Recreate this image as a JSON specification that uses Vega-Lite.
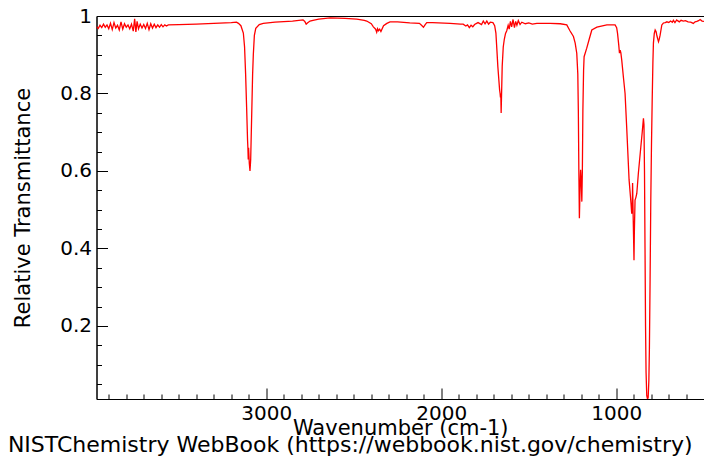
{
  "$schema": "https://vega.github.io/schema/vega-lite/v6.json",
  "width": 607.5,
  "height": 383,
  "autosize": "none",
  "padding": {"left": 96.5, "top": 16, "right": 0, "bottom": 57},
  "background": "white",
  "view": {"stroke": "black", "strokeWidth": 1},
  "title": {
    "text": "NISTChemistry WebBook (https://webbook.nist.gov/chemistry)",
    "orient": "bottom",
    "anchor": "middle",
    "font": "DejaVu Sans",
    "fontSize": 22,
    "fontWeight": "normal",
    "color": "black",
    "dx": -50,
    "offset": -3
  },
  "data": {
    "values": [
      {"wn": 3970, "t": 0.972}, {"wn": 3960, "t": 0.968}, {"wn": 3950, "t": 0.976}, {"wn": 3940, "t": 0.970},
      {"wn": 3930, "t": 0.979}, {"wn": 3920, "t": 0.971}, {"wn": 3910, "t": 0.977}, {"wn": 3900, "t": 0.967},
      {"wn": 3890, "t": 0.981}, {"wn": 3880, "t": 0.965}, {"wn": 3870, "t": 0.983}, {"wn": 3860, "t": 0.969},
      {"wn": 3850, "t": 0.976}, {"wn": 3840, "t": 0.964}, {"wn": 3830, "t": 0.985}, {"wn": 3820, "t": 0.966},
      {"wn": 3810, "t": 0.980}, {"wn": 3800, "t": 0.971}, {"wn": 3790, "t": 0.977}, {"wn": 3780, "t": 0.967},
      {"wn": 3770, "t": 0.979}, {"wn": 3760, "t": 0.961}, {"wn": 3752, "t": 0.993}, {"wn": 3745, "t": 0.959},
      {"wn": 3738, "t": 0.986}, {"wn": 3730, "t": 0.967}, {"wn": 3720, "t": 0.979}, {"wn": 3710, "t": 0.969},
      {"wn": 3700, "t": 0.978}, {"wn": 3690, "t": 0.968}, {"wn": 3680, "t": 0.981}, {"wn": 3670, "t": 0.965},
      {"wn": 3660, "t": 0.980}, {"wn": 3650, "t": 0.969}, {"wn": 3640, "t": 0.979}, {"wn": 3630, "t": 0.970},
      {"wn": 3620, "t": 0.977}, {"wn": 3610, "t": 0.971}, {"wn": 3600, "t": 0.978}, {"wn": 3590, "t": 0.972},
      {"wn": 3580, "t": 0.977}, {"wn": 3570, "t": 0.974}, {"wn": 3560, "t": 0.977}, {"wn": 3500, "t": 0.978},
      {"wn": 3400, "t": 0.979}, {"wn": 3300, "t": 0.981}, {"wn": 3200, "t": 0.983}, {"wn": 3170, "t": 0.984},
      {"wn": 3159, "t": 0.981}, {"wn": 3145, "t": 0.975}, {"wn": 3131, "t": 0.956}, {"wn": 3124, "t": 0.92},
      {"wn": 3118, "t": 0.85}, {"wn": 3112, "t": 0.76}, {"wn": 3107, "t": 0.68}, {"wn": 3105, "t": 0.66},
      {"wn": 3103, "t": 0.63}, {"wn": 3101, "t": 0.66}, {"wn": 3097, "t": 0.62}, {"wn": 3093, "t": 0.60},
      {"wn": 3089, "t": 0.63}, {"wn": 3083, "t": 0.75}, {"wn": 3078, "t": 0.85}, {"wn": 3074, "t": 0.90},
      {"wn": 3068, "t": 0.95}, {"wn": 3060, "t": 0.968}, {"wn": 3040, "t": 0.978}, {"wn": 3017, "t": 0.981},
      {"wn": 2950, "t": 0.984}, {"wn": 2850, "t": 0.987}, {"wn": 2790, "t": 0.990}, {"wn": 2780, "t": 0.986},
      {"wn": 2772, "t": 0.979}, {"wn": 2765, "t": 0.982}, {"wn": 2750, "t": 0.987}, {"wn": 2733, "t": 0.989},
      {"wn": 2700, "t": 0.992}, {"wn": 2635, "t": 0.995}, {"wn": 2550, "t": 0.994}, {"wn": 2483, "t": 0.992},
      {"wn": 2440, "t": 0.989}, {"wn": 2426, "t": 0.987}, {"wn": 2400, "t": 0.980}, {"wn": 2388, "t": 0.972},
      {"wn": 2375, "t": 0.966}, {"wn": 2369, "t": 0.958}, {"wn": 2364, "t": 0.967}, {"wn": 2359, "t": 0.962},
      {"wn": 2352, "t": 0.966}, {"wn": 2345, "t": 0.960}, {"wn": 2330, "t": 0.975}, {"wn": 2311, "t": 0.981},
      {"wn": 2293, "t": 0.985}, {"wn": 2250, "t": 0.985}, {"wn": 2180, "t": 0.982}, {"wn": 2125, "t": 0.981},
      {"wn": 2113, "t": 0.976}, {"wn": 2102, "t": 0.971}, {"wn": 2092, "t": 0.978}, {"wn": 2083, "t": 0.983},
      {"wn": 2050, "t": 0.983}, {"wn": 1950, "t": 0.981}, {"wn": 1890, "t": 0.979}, {"wn": 1875, "t": 0.979},
      {"wn": 1860, "t": 0.974}, {"wn": 1850, "t": 0.977}, {"wn": 1840, "t": 0.970}, {"wn": 1830, "t": 0.976},
      {"wn": 1820, "t": 0.972}, {"wn": 1810, "t": 0.978}, {"wn": 1790, "t": 0.983}, {"wn": 1770, "t": 0.978},
      {"wn": 1760, "t": 0.987}, {"wn": 1750, "t": 0.980}, {"wn": 1740, "t": 0.987}, {"wn": 1730, "t": 0.979},
      {"wn": 1720, "t": 0.984}, {"wn": 1705, "t": 0.983}, {"wn": 1695, "t": 0.975}, {"wn": 1688, "t": 0.956},
      {"wn": 1682, "t": 0.91}, {"wn": 1677, "t": 0.87}, {"wn": 1672, "t": 0.84}, {"wn": 1667, "t": 0.81},
      {"wn": 1664, "t": 0.80}, {"wn": 1662, "t": 0.79}, {"wn": 1660, "t": 0.80}, {"wn": 1658, "t": 0.75},
      {"wn": 1656, "t": 0.79}, {"wn": 1652, "t": 0.87}, {"wn": 1646, "t": 0.92}, {"wn": 1640, "t": 0.94},
      {"wn": 1633, "t": 0.955}, {"wn": 1626, "t": 0.962}, {"wn": 1618, "t": 0.976}, {"wn": 1612, "t": 0.966},
      {"wn": 1605, "t": 0.986}, {"wn": 1598, "t": 0.972}, {"wn": 1590, "t": 0.991}, {"wn": 1582, "t": 0.970},
      {"wn": 1575, "t": 0.986}, {"wn": 1568, "t": 0.976}, {"wn": 1560, "t": 0.988}, {"wn": 1550, "t": 0.978},
      {"wn": 1540, "t": 0.984}, {"wn": 1520, "t": 0.980}, {"wn": 1500, "t": 0.982}, {"wn": 1480, "t": 0.979},
      {"wn": 1454, "t": 0.981}, {"wn": 1420, "t": 0.981}, {"wn": 1378, "t": 0.981}, {"wn": 1320, "t": 0.980},
      {"wn": 1283, "t": 0.977}, {"wn": 1265, "t": 0.962}, {"wn": 1245, "t": 0.947}, {"wn": 1235, "t": 0.93},
      {"wn": 1226, "t": 0.904}, {"wn": 1220, "t": 0.85}, {"wn": 1217, "t": 0.757}, {"wn": 1214, "t": 0.60},
      {"wn": 1211, "t": 0.478}, {"wn": 1207, "t": 0.56}, {"wn": 1204, "t": 0.603}, {"wn": 1200, "t": 0.57},
      {"wn": 1197, "t": 0.521}, {"wn": 1194, "t": 0.60}, {"wn": 1191, "t": 0.757}, {"wn": 1187, "t": 0.86},
      {"wn": 1184, "t": 0.895}, {"wn": 1169, "t": 0.917}, {"wn": 1155, "t": 0.94}, {"wn": 1140, "t": 0.964},
      {"wn": 1111, "t": 0.971}, {"wn": 1054, "t": 0.977}, {"wn": 1007, "t": 0.977}, {"wn": 998, "t": 0.970},
      {"wn": 993, "t": 0.955}, {"wn": 986, "t": 0.925}, {"wn": 982, "t": 0.904}, {"wn": 978, "t": 0.912},
      {"wn": 974, "t": 0.905}, {"wn": 969, "t": 0.886}, {"wn": 959, "t": 0.84}, {"wn": 950, "t": 0.80},
      {"wn": 940, "t": 0.706}, {"wn": 927, "t": 0.577}, {"wn": 916, "t": 0.516}, {"wn": 912, "t": 0.49},
      {"wn": 909, "t": 0.50}, {"wn": 907, "t": 0.569}, {"wn": 904, "t": 0.49}, {"wn": 901, "t": 0.42},
      {"wn": 899, "t": 0.370}, {"wn": 897, "t": 0.44}, {"wn": 893, "t": 0.525}, {"wn": 888, "t": 0.532},
      {"wn": 883, "t": 0.542}, {"wn": 874, "t": 0.594}, {"wn": 860, "t": 0.662}, {"wn": 852, "t": 0.70},
      {"wn": 845, "t": 0.736}, {"wn": 842, "t": 0.72}, {"wn": 839, "t": 0.60}, {"wn": 836, "t": 0.40},
      {"wn": 833, "t": 0.20}, {"wn": 830, "t": 0.08}, {"wn": 826, "t": 0.02}, {"wn": 822, "t": 0.012},
      {"wn": 818, "t": 0.015}, {"wn": 814, "t": 0.06}, {"wn": 811, "t": 0.14}, {"wn": 807, "t": 0.32},
      {"wn": 803, "t": 0.525}, {"wn": 799, "t": 0.67}, {"wn": 795, "t": 0.783}, {"wn": 791, "t": 0.88},
      {"wn": 788, "t": 0.93}, {"wn": 783, "t": 0.955}, {"wn": 778, "t": 0.964}, {"wn": 773, "t": 0.960},
      {"wn": 769, "t": 0.951}, {"wn": 764, "t": 0.942}, {"wn": 759, "t": 0.934}, {"wn": 755, "t": 0.940},
      {"wn": 750, "t": 0.950}, {"wn": 740, "t": 0.977}, {"wn": 731, "t": 0.982}, {"wn": 720, "t": 0.983},
      {"wn": 711, "t": 0.985}, {"wn": 700, "t": 0.983}, {"wn": 690, "t": 0.987}, {"wn": 680, "t": 0.984},
      {"wn": 674, "t": 0.989}, {"wn": 665, "t": 0.983}, {"wn": 655, "t": 0.990}, {"wn": 650, "t": 0.988},
      {"wn": 640, "t": 0.985}, {"wn": 630, "t": 0.989}, {"wn": 617, "t": 0.987}, {"wn": 605, "t": 0.988},
      {"wn": 590, "t": 0.985}, {"wn": 575, "t": 0.984}, {"wn": 560, "t": 0.981}, {"wn": 550, "t": 0.985},
      {"wn": 540, "t": 0.986}, {"wn": 530, "t": 0.988}, {"wn": 521, "t": 0.991}, {"wn": 510, "t": 0.987},
      {"wn": 499, "t": 0.986}
    ]
  },
  "mark": {"type": "line", "color": "#ff0000", "strokeWidth": 1.3, "clip": true},
  "encoding": {
    "x": {
      "field": "wn",
      "type": "quantitative",
      "scale": {"domain": [3970, 499], "nice": false, "zero": false},
      "axis": {
        "values": [600, 700, 800, 900, 1000, 1100, 1200, 1300, 1400, 1500, 1600, 1700, 1800, 1900, 2000, 2100, 2200, 2300, 2400, 2500, 2600, 2700, 2800, 2900, 3000, 3100, 3200, 3300, 3400, 3500, 3600, 3700, 3800, 3900],
        "labelExpr": "datum.value % 1000 === 0 ? format(datum.value, 'd') : ''",
        "tickSize": {"condition": {"test": "datum.value % 1000 === 0", "value": -11}, "value": -5},
        "tickColor": "black",
        "tickWidth": 1,
        "domainColor": "black",
        "domainWidth": 1,
        "grid": false,
        "labelFont": "DejaVu Sans",
        "labelFontSize": 20,
        "labelColor": "black",
        "labelPadding": 15,
        "labelFlush": false,
        "labelOverlap": false,
        "title": "Wavenumber (cm-1)",
        "titleFont": "DejaVu Sans",
        "titleFontSize": 21,
        "titleFontWeight": "normal",
        "titleColor": "black",
        "titlePadding": -12
      }
    },
    "y": {
      "field": "t",
      "type": "quantitative",
      "scale": {"domain": [0.0116, 1], "nice": false, "zero": false},
      "axis": {
        "values": [0.05, 0.1, 0.15, 0.2, 0.25, 0.3, 0.35, 0.4, 0.45, 0.5, 0.55, 0.6, 0.65, 0.7, 0.75, 0.8, 0.85, 0.9, 0.95, 1.0],
        "labelExpr": "abs(datum.value * 5 - round(datum.value * 5)) < 0.001 ? format(datum.value, '.1~f') : ''",
        "tickSize": {"condition": {"test": "abs(datum.value * 5 - round(datum.value * 5)) < 0.001", "value": -11}, "value": -5},
        "tickColor": "black",
        "tickWidth": 1,
        "domainColor": "black",
        "domainWidth": 1,
        "grid": false,
        "labelFont": "DejaVu Sans",
        "labelFontSize": 20,
        "labelColor": "black",
        "labelPadding": 16,
        "labelFlush": false,
        "labelOverlap": false,
        "title": "Relative Transmittance",
        "titleFont": "DejaVu Sans",
        "titleFontSize": 21,
        "titleFontWeight": "normal",
        "titleColor": "black",
        "titlePadding": 26
      }
    }
  }
}
